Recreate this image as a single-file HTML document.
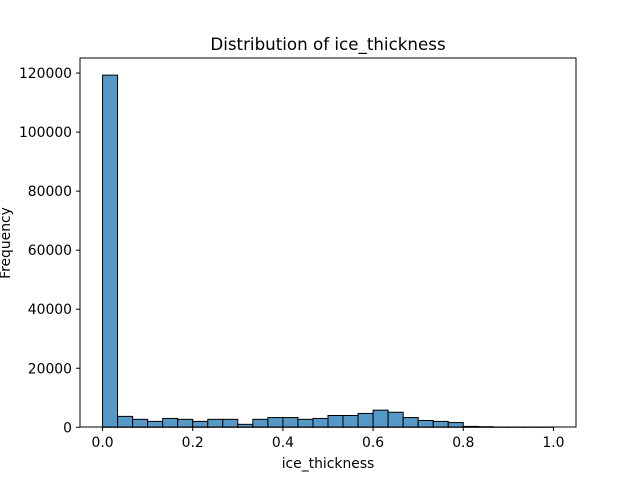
<!DOCTYPE html>
<html><head><meta charset="utf-8"><style>
body{margin:0;background:#fff}
svg text{font-family:"DejaVu Sans","Liberation Sans",sans-serif;fill:#000}
</style></head><body>
<svg id="chart" width="640" height="480">
<rect width="640" height="480" fill="#fff"/>
<g id="bars"></g>
<rect x="80" y="58" width="496" height="369" fill="none" stroke="#000" stroke-width="1"/>
<g id="xticks"></g><g id="yticks"></g>
<text x="328" y="50" font-size="16.7" text-anchor="middle">Distribution of ice_thickness</text>
<text x="328" y="468" font-size="13.9" text-anchor="middle">ice_thickness</text>
<text transform="translate(10,243) rotate(-90)" font-size="13.9" text-anchor="middle">Frequency</text>
</svg>
<script>
const binStart = 0, binCount = 30, binWidth = 1/30;
const counts = [119300,3700,2700,2000,3000,2700,2000,2700,2700,1000,2700,3300,3300,2700,3000,4000,4000,4700,5800,5100,3300,2300,2000,1600,300,200,30,20,10,10];
const xTickVals = [0,0.2,0.4,0.6,0.8,1.0];
const xTickLabels = ["0.0","0.2","0.4","0.6","0.8","1.0"];
const yTickVals = [0,20000,40000,60000,80000,100000,120000];
const yTickLabels = ["0","20000","40000","60000","80000","100000","120000"];
const NS="http://www.w3.org/2000/svg";
const xs=v=>80+(v+0.05)/1.1*496;
const ys=v=>427.3-v*0.002952;
const bars=document.getElementById('bars');
counts.forEach((c,i)=>{
  const r=document.createElementNS(NS,'rect');
  const x0=xs(binStart+i*binWidth), x1=xs(binStart+(i+1)*binWidth);
  r.setAttribute('x',x0);r.setAttribute('width',x1-x0);
  r.setAttribute('y',ys(c));r.setAttribute('height',ys(0)-ys(c));
  r.setAttribute('fill','#5799c6');r.setAttribute('stroke','#000');r.setAttribute('stroke-width','1');
  
  
  bars.appendChild(r);
});
const xt=document.getElementById('xticks');
xTickVals.forEach((v,i)=>{
  const x=xs(v);
  const l=document.createElementNS(NS,'line');
  l.setAttribute('x1',x);l.setAttribute('x2',x);l.setAttribute('y1',427);l.setAttribute('y2',431);l.setAttribute('stroke','#000');
  
  
  xt.appendChild(l);
  const t=document.createElementNS(NS,'text');
  t.setAttribute('x',x);t.setAttribute('y',447);t.setAttribute('font-size','13.9');t.setAttribute('text-anchor','middle');
  t.textContent=xTickLabels[i];
  
  
  xt.appendChild(t);
});
const yt=document.getElementById('yticks');
yTickVals.forEach((v,i)=>{
  const y=ys(v);
  const l=document.createElementNS(NS,'line');
  l.setAttribute('x1',76);l.setAttribute('x2',80);l.setAttribute('y1',y);l.setAttribute('y2',y);l.setAttribute('stroke','#000');
  
  
  yt.appendChild(l);
  const t=document.createElementNS(NS,'text');
  t.setAttribute('x',72);t.setAttribute('y',y+5);t.setAttribute('font-size','13.9');t.setAttribute('text-anchor','end');
  t.textContent=yTickLabels[i];
  
  
  yt.appendChild(t);
});
</script>
</body></html>
